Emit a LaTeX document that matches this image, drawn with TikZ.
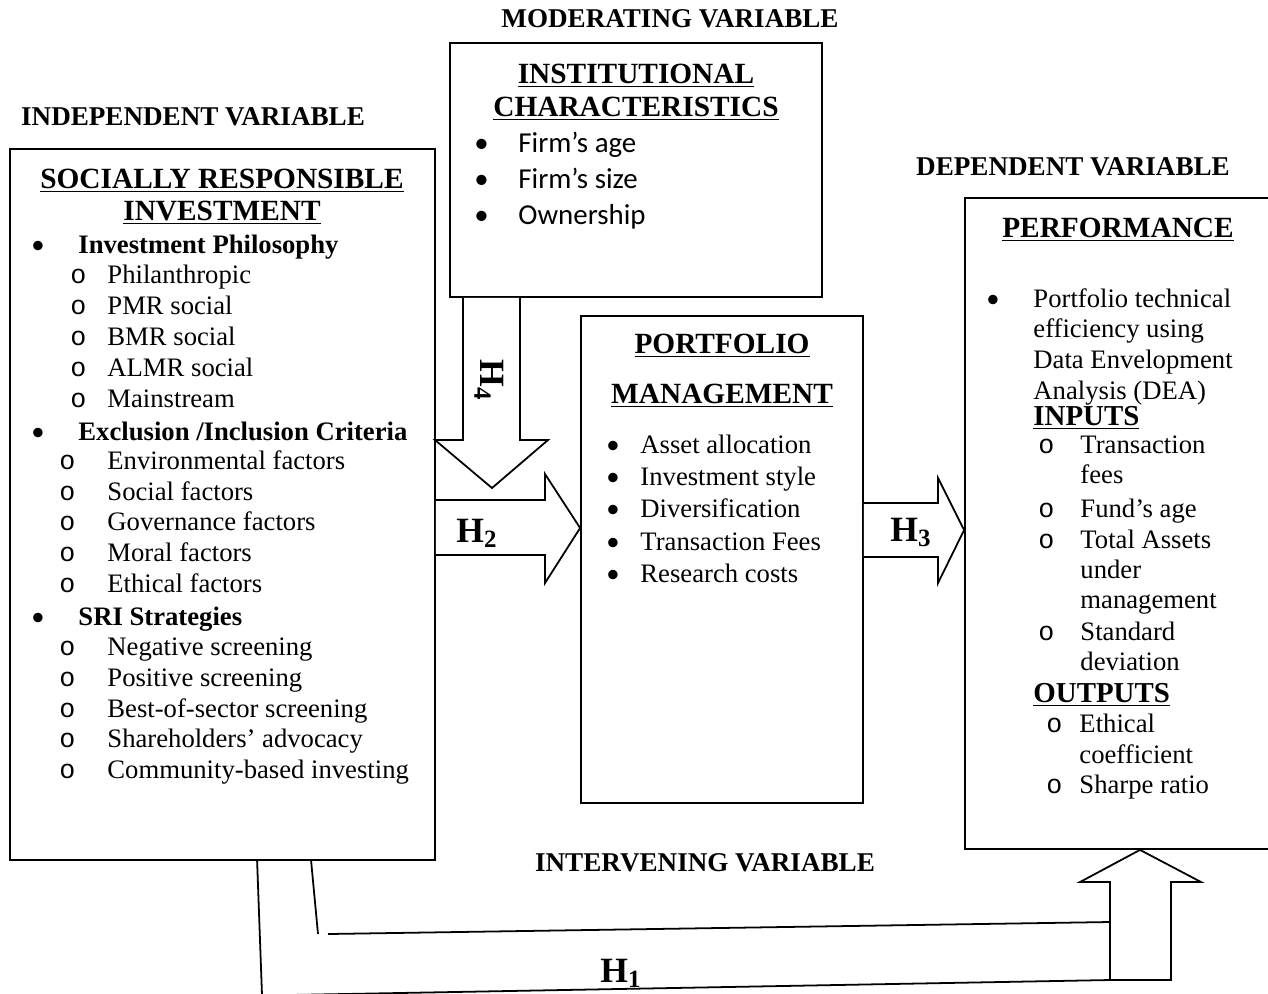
\documentclass[tikz,border=0pt]{standalone}
\usepackage{fontspec}
\setmainfont{Liberation Serif}
\newfontfamily\calfont{Carlito}
\newfontfamily\monofont{Liberation Mono}
\usetikzlibrary{fit,calc}

\newcommand{\obul}{{\monofont o}}
\newcommand{\fbul}{{\calfont •}}
\newcommand{\hh}[1]{H\textsubscript{#1}}

\tikzset{
	box/.style={draw,line width=0.8pt,inner sep=0pt},
	blk/.style={draw,line width=0.8pt,fill=white,line join=miter},
	txt/.style={anchor=base west,inner sep=0pt,font=\fontsize{12}{14}\selectfont},
	ttl/.style={anchor=base,inner sep=0pt,font=\fontsize{13.2}{15}\selectfont\bfseries},
	var/.style={anchor=base,inner sep=0pt,font=\fontsize{12.2}{14}\selectfont\bfseries},
	hyp/.style={anchor=base west,inner sep=0pt,font=\fontsize{16}{18}\selectfont\bfseries}
}

\begin{document}
\begin{tikzpicture}[x=0.45pt,y=-0.45pt]
				\useasboundingbox (0,0) rectangle (1268,993);

				%Kaesten
				\node[box,fit={(10,149) (435,860)}] (sri) {};
				\node[box,fit={(450,43) (822,297)}] (inst) {};
				\node[box,fit={(581,316) (863,803)}] (pm) {};
				\node[box,fit={(965,198) (1275,849)}] (perf) {};

				%Variablen
				\node[var] (mod) at (670,27) {MODERATING VARIABLE};
				\node[var] (ind) at (193,125) {INDEPENDENT VARIABLE};
				\node[var] (dep) at (1073,175) {DEPENDENT VARIABLE};
				\node[var] (int) at (705,871) {INTERVENING VARIABLE};

				%Blockpfeile
				\draw[blk] (inst.south -| 463,0) -- (463,440) -- (435,440) -- (492,488) -- (548,440) -- (520,440) -- (inst.south -| 520,0);
				\draw[blk] (sri.east |- 0,500) -- (545,500) -- (545,474) -- (pm.west |- 0,528) -- (545,583) -- (545,555) -- (sri.east |- 0,555);
				\draw[blk] (pm.east |- 0,503) -- (938,503) -- (938,478) -- (perf.west |- 0,530) -- (938,583) -- (938,557) -- (pm.east |- 0,557);
				\draw[blk] (1110,980) -- (1110,882) -- (1080,882) -- (perf.south -| 1140,0) -- (1201,882) -- (1171,882) -- (1171,980) -- cycle;

				%Linien zu H1
				\coordinate (a1) at ($(sri.south west)+(302,0)$);
				\coordinate (a2) at ($(sri.south west)+(248,0)$);
				\draw[line width=0.8pt] (a1) -- (318,934);
				\draw[line width=0.8pt] (328,934) -- (1110,922);
				\draw[line width=0.8pt] (a2) -- (262,995);
				\draw[line width=0.8pt] (235,996) -- (1110,980);

				%Hypothesen
				\node[hyp] (h1) at (600,982) {\hh{1}};
				\node[hyp] (h2) at (456,542) {\hh{2}};
				\node[hyp] (h3) at (890,541) {\hh{3}};
				\node[anchor=center,inner sep=0pt,rotate=-90,font=\fontsize{16}{18}\selectfont\bfseries] (h4) at (489,380) {\hh{4}};

				%Socially responsible investment
				\node[ttl] (sri1) at (222,188) {\underline{SOCIALLY RESPONSIBLE}};
				\node[ttl] (sri2) at (222,220) {\underline{INVESTMENT}};
				\foreach \y/\t in {253/{Investment Philosophy},440/{Exclusion /Inclusion Criteria},625/{SRI Strategies}}
					{\node[txt] (b\y) at (31,\y) {\fbul};
					\node[txt,font=\fontsize{12}{14}\selectfont\bfseries] (s\y) at (78,\y) {\t};}
				\foreach \y/\t in {283/Philanthropic,314/PMR social,345/BMR social,376/ALMR social,407/Mainstream}
					{\node[txt] (o\y) at (70,\y) {\obul};
					\node[txt] (s\y) at (107,\y) {\t};}
				\foreach \y/\t in {469/Environmental factors,500/Social factors,530/Governance factors,561/Moral factors,592/Ethical factors,655/Negative screening,686/Positive screening,717/Best-of-sector screening,747/Shareholders’ advocacy,778/Community-based investing}
					{\node[txt] (o\y) at (59,\y) {\obul};
					\node[txt] (s\y) at (107,\y) {\t};}

				%Institutional characteristics
				\node[ttl] (inst1) at (636,83) {\underline{INSTITUTIONAL}};
				\node[ttl] (inst2) at (636,116) {\underline{CHARACTERISTICS}};
				\foreach \y/\t in {152/Firm’s age,188/Firm’s size,224/Ownership}
					{\node[txt,font=\fontsize{13}{15}\calfont] (ib\y) at (474,\y) {•};
					\node[txt,font=\fontsize{13}{15}\calfont] (i\y) at (518,\y) {\t};}

				%Portfolio management
				\node[ttl] (pm1) at (722,353) {\underline{PORTFOLIO}};
				\node[ttl] (pm2) at (722,403) {\underline{MANAGEMENT}};
				\foreach \y/\t in {453/Asset allocation,485/Investment style,517/Diversification,550/Transaction Fees,582/Research costs}
					{\node[txt] (pb\y) at (606,\y) {\fbul};
					\node[txt] (p\y) at (640,\y) {\t};}

				%Performance
				\node[ttl] (perf1) at (1118,237) {\underline{PERFORMANCE}};
				\node[txt] (fb) at (986,307) {\fbul};
				\foreach \y/\t in {307/Portfolio technical,337/efficiency using,368/Data Envelopment,399/Analysis (DEA)}
					\node[txt] (f\y) at (1033,\y) {\t};
				\node[txt,font=\fontsize{13}{15}\selectfont\bfseries] (inp) at (1033,425) {\underline{INPUTS}};
				\foreach \y in {453,517,548,640}
					\node[txt] (fo\y) at (1038,\y) {\obul};
				\foreach \y/\t in {453/Transaction,483/fees,517/Fund’s age,548/Total Assets,578/under,608/management,640/Standard,670/deviation}
					\node[txt] (f\y) at (1080,\y) {\t};
				\node[txt,font=\fontsize{13}{15}\selectfont\bfseries] (outp) at (1033,702) {\underline{OUTPUTS}};
				\foreach \y in {732,793}
					\node[txt] (fo\y) at (1046,\y) {\obul};
				\foreach \y/\t in {732/Ethical,763/coefficient,793/Sharpe ratio}
					\node[txt] (f\y) at (1079,\y) {\t};
\end{tikzpicture}
\end{document}
